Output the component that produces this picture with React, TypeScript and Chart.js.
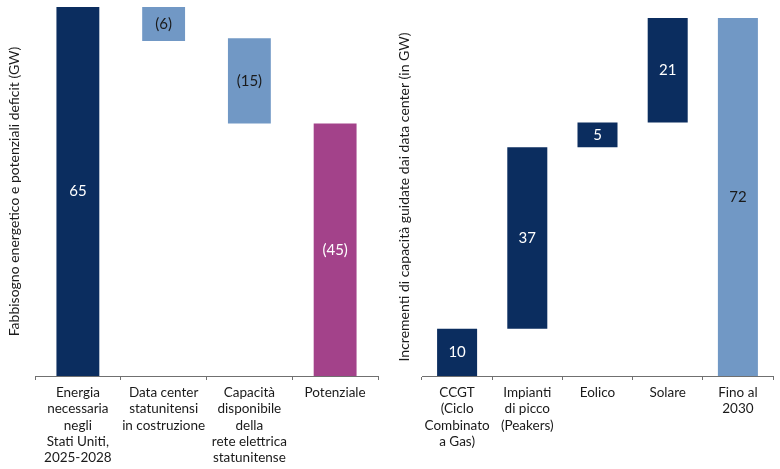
import React, { useEffect, useRef } from "react";
import Chart from "chart.js/auto";

// Left panel data
const leftCategories: string[][] = [
  ["Energia", "necessaria", "negli", "Stati Uniti,", "2025-2028"],
  ["Data center", "statunitensi", "in costruzione"],
  ["Capacità", "disponibile", "della", "rete elettrica", "statunitense"],
  ["Potenziale"],
];
const leftStarts = [0, 59, 44.5, 0];
const leftEnds = [65, 65, 59.5, 44.5];
const leftLabels = ["65", "(6)", "(15)", "(45)"];
const leftTitle = "Fabbisogno energetico e potenziali deficit (GW)";

// Right panel data
const rightCategories: string[][] = [
  ["CCGT", "(Ciclo", "Combinato", "a Gas)"],
  ["Impianti", "di picco", "(Peakers)"],
  ["Eolico"],
  ["Solare"],
  ["Fino al", "2030"],
];
const rightStarts = [0, 9.5, 46, 51, 0];
const rightEnds = [9.5, 46, 51, 72, 72];
const rightLabels = ["10", "37", "5", "21", "72"];
const rightTitle = "Incrementi di capacità guidate dai data center (in GW)";

const NAVY = "#0b2d5f";
const LIGHT = "#7198c5";
const MAGENTA = "#a3428a";
const FONT = "Lato, 'Noto Sans', sans-serif";

const leftColors = [NAVY, LIGHT, LIGHT, MAGENTA];
const leftTextColors = ["#ffffff", "#1a1a1a", "#1a1a1a", "#ffffff"];
const rightColors = [NAVY, NAVY, NAVY, NAVY, LIGHT];
const rightTextColors = ["#ffffff", "#ffffff", "#ffffff", "#ffffff", "#1a1a1a"];

const valueLabelPlugin = (labels: string[], colors: string[]) => ({
  id: "valueLabels",
  afterDatasetsDraw(chart: any) {
    const ctx = chart.ctx;
    const meta = chart.getDatasetMeta(0);
    ctx.save();
    ctx.font = `15px ${FONT}`;
    ctx.textAlign = "center";
    ctx.textBaseline = "middle";
    meta.data.forEach((el: any, i: number) => {
      const cy = (el.y + el.base) / 2;
      ctx.fillStyle = colors[i];
      ctx.fillText(labels[i], el.x, cy);
    });
    ctx.restore();
  },
});

type PanelProps = {
  categories: string[][];
  starts: number[];
  ends: number[];
  labels: string[];
  bgColors: string[];
  textColors: string[];
  title: string;
  yMax: number;
  yWidth: number;
  padTop: number;
  padRight: number;
  barFrac: number;
};

function Panel(p: PanelProps) {
  const ref = useRef<HTMLCanvasElement>(null);
  useEffect(() => {
    if (!ref.current) return;
    const data = p.starts.map((s, i) => [s, p.ends[i]]);
    const chart = new Chart(ref.current, {
      type: "bar",
      data: {
        labels: p.categories as any,
        datasets: [
          {
            data: data as any,
            backgroundColor: p.bgColors,
            borderWidth: 0,
            borderSkipped: false,
            barPercentage: p.barFrac,
            categoryPercentage: 1,
          },
        ],
      },
      options: {
        responsive: false,
        animation: false,
        layout: { padding: { top: p.padTop, right: p.padRight, left: 0, bottom: 0 } },
        plugins: { legend: { display: false }, tooltip: { enabled: false } },
        scales: {
          x: {
            offset: true,
            grid: {
              offset: true,
              display: true,
              drawOnChartArea: false,
              drawTicks: true,
              tickLength: 4,
              color: "#707070",
            },
            border: { display: true, color: "#707070", width: 1 },
            ticks: {
              autoSkip: false,
              maxRotation: 0,
              minRotation: 0,
              padding: 5,
              color: "#1a1a1a",
              font: { family: FONT, size: 13.5, lineHeight: 1.19 },
            },
            afterFit: (scale: any) => {
              scale.height = 93;
            },
          },
          y: {
            min: 0,
            max: p.yMax,
            grid: { display: false },
            border: { display: false },
            ticks: { display: false },
            title: {
              display: true,
              text: p.title,
              color: "#1a1a1a",
              font: { family: FONT, size: 14 },
              padding: { top: 6, bottom: 0 },
            },
            afterFit: (scale: any) => {
              scale.width = p.yWidth;
            },
          },
        },
      },
      plugins: [valueLabelPlugin(p.labels, p.textColors)],
    });
    return () => chart.destroy();
  }, []);
  return <canvas ref={ref} width={390} height={469} style={{ display: "block" }} />;
}

export default function App() {
  return (
    <div
      style={{
        position: "absolute",
        left: 0,
        top: 0,
        width: 780,
        height: 469,
        background: "#ffffff",
        display: "flex",
      }}
    >
      <Panel
        categories={leftCategories}
        starts={leftStarts}
        ends={leftEnds}
        labels={leftLabels}
        bgColors={leftColors}
        textColors={leftTextColors}
        title={leftTitle}
        yMax={65}
        yWidth={35}
        padTop={7}
        padRight={12}
        barFrac={0.5}
      />
      <Panel
        categories={rightCategories}
        starts={rightStarts}
        ends={rightEnds}
        labels={rightLabels}
        bgColors={rightColors}
        textColors={rightTextColors}
        title={rightTitle}
        yMax={72}
        yWidth={32}
        padTop={18}
        padRight={7}
        barFrac={0.57}
      />
    </div>
  );
}
